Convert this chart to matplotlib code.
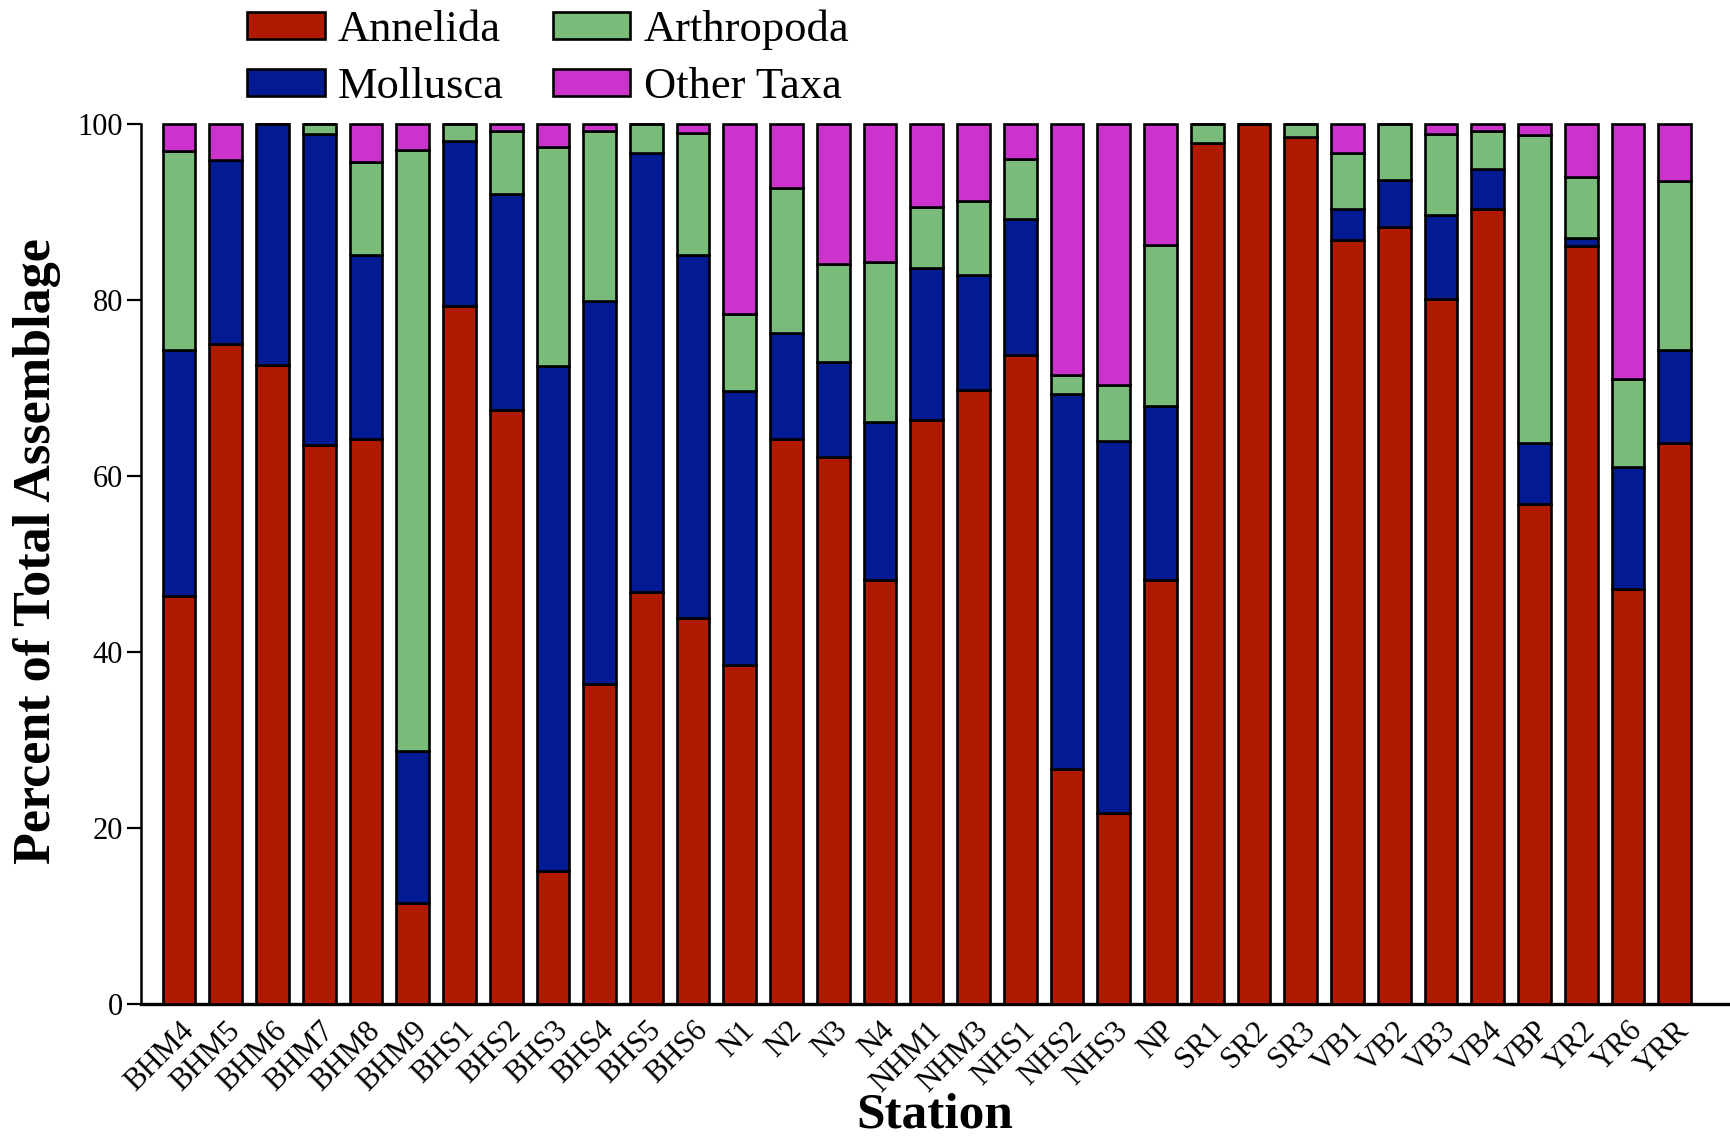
import matplotlib
matplotlib.use('Agg')
from matplotlib import pyplot as plt
import numpy as np

plt.rcParams['font.family'] = ['Liberation Serif', 'DejaVu Serif']

stations = ['BHM4', 'BHM5', 'BHM6', 'BHM7', 'BHM8', 'BHM9', 'BHS1', 'BHS2', 'BHS3', 'BHS4', 'BHS5', 'BHS6',
            'N1', 'N2', 'N3', 'N4', 'NHM1', 'NHM3', 'NHS1', 'NHS2', 'NHS3', 'NP', 'SR1', 'SR2', 'SR3',
            'VB1', 'VB2', 'VB3', 'VB4', 'VBP', 'YR2', 'YR6', 'YRR']

annelida = [46.3, 75.0, 72.6, 63.5, 64.2, 11.4, 79.3, 67.5, 15.1, 36.4, 46.8, 43.9,
            38.5, 64.2, 62.2, 48.2, 66.4, 69.8, 73.8, 26.7, 21.7, 48.2, 97.9, 100.0, 98.5,
            86.8, 88.3, 80.1, 90.3, 56.8, 86.1, 47.1, 63.7]
mollusca = [28.0, 20.9, 27.4, 35.4, 20.9, 17.3, 18.8, 24.5, 57.4, 43.5, 49.9, 41.2,
            31.1, 12.1, 10.8, 17.9, 17.2, 13.0, 15.4, 42.6, 42.3, 19.8, 0.0, 0.0, 0.0,
            3.5, 5.3, 9.6, 4.6, 6.9, 1.0, 13.9, 10.6]
arthropoda = [22.6, 0.0, 0.0, 1.1, 10.6, 68.3, 1.9, 7.2, 24.9, 19.3, 3.3, 13.9,
              8.8, 16.4, 11.1, 18.2, 7.0, 8.5, 6.8, 2.2, 6.3, 18.2, 2.1, 0.0, 1.5,
              6.4, 6.4, 9.2, 4.3, 35.0, 6.9, 10.0, 19.2]
other_taxa = [3.1, 4.1, 0.0, 0.0, 4.3, 3.0, 0.0, 0.8, 2.6, 0.8, 0.0, 1.0,
              21.6, 7.3, 15.9, 15.7, 9.4, 8.7, 4.0, 28.5, 29.7, 13.8, 0.0, 0.0, 0.0,
              3.3, 0.0, 1.1, 0.8, 1.3, 6.0, 29.0, 6.5]

taxa = ['Annelida', 'Mollusca', 'Arthropoda', 'Other Taxa']
colors = ['#b01a00', '#021a92', '#79bc79', '#cc33cc']

fig = plt.figure(figsize=(17.31, 11.38), dpi=100)
ax = fig.add_axes([0.0815, 0.118, 0.9165, 0.773])

x = np.arange(len(stations))
bottom = np.zeros(len(stations))
handles = []
for name, vals, col in zip(taxa, [annelida, mollusca, arthropoda, other_taxa], colors):
    vals = np.array(vals)
    b = ax.bar(x, vals, width=0.7, bottom=bottom, color=col, edgecolor='black',
               linewidth=1.9, label=name, clip_on=False, zorder=3)
    handles.append(b)
    bottom += vals

ax.set_xlim(-0.81, len(stations) - 1 + 1.13)
ax.set_ylim(0, 100)
ax.set_yticks([0, 20, 40, 60, 80, 100])
ax.tick_params(axis='y', labelsize=22, length=10, width=1.6, direction='out', pad=3)
ax.tick_params(axis='x', length=0, pad=9)
ax.set_xticks(x)
ax.set_xticklabels(stations, rotation=45, ha='right', va='top', rotation_mode='anchor', fontsize=22)

for s in ['top', 'right']:
    ax.spines[s].set_visible(False)
ax.spines['left'].set_linewidth(1.8)
ax.spines['bottom'].set_linewidth(2.4)
ax.spines['left'].set_bounds(0, 100)

ax.set_ylabel('Percent of Total Assemblage', fontsize=37.5, fontweight='bold')
ax.yaxis.set_label_coords(-0.0505, 0.515)
ax.set_xlabel('Station', fontsize=37, fontweight='bold', va='baseline')
ax.xaxis.set_label_coords(0.5, -0.141)

# legend order: Annelida, Mollusca / Arthropoda, Other Taxa
fig.legend(handles, taxa, ncol=2, loc='upper left', bbox_to_anchor=(0.1246, 1.019),
           frameon=False, fontsize=32, handlelength=1.75, handleheight=0.55,
           handletextpad=0.3, columnspacing=1.1, labelspacing=0.39, borderpad=0.2)

plt.savefig('out.png', dpi=100)
